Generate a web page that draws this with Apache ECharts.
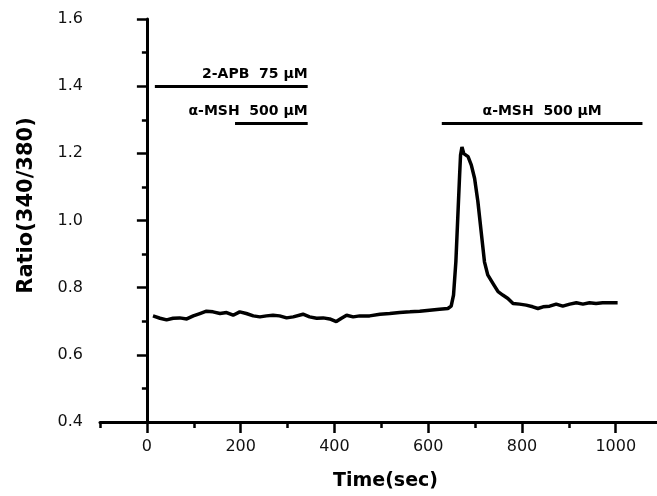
<!DOCTYPE html>
<html>
<head>
<meta charset="UTF-8">
<title></title>
<style>
  html, body { margin: 0; padding: 0; background: #fff; }
  #myChart { width: 657px; height: 496px; }
</style>
</head>
<body>
<div id="myChart"></div>
<script src="https://cdn.jsdelivr.net/npm/echarts@6/dist/echarts.min.js"></script>
<script>
  // trace
  var timeSec = [13, 28, 42, 56, 70, 85, 99, 113, 127, 141,
    156, 170, 184, 198, 212, 227, 241, 255, 269, 283,
    298, 312, 333, 347, 362, 376, 390, 404, 415, 426,
    440, 454, 475, 497, 518, 539, 561, 582, 603, 624,
    642, 649, 654, 659, 663, 667, 669, 672, 676, 685,
    692, 699, 706, 713, 720, 727, 738, 749, 759, 770,
    781, 795, 809, 823, 834, 845, 859, 873, 887, 902,
    916, 930, 944, 958, 972, 987, 1004];
  var ratio = [0.716, 0.709, 0.704, 0.709, 0.710, 0.707, 0.716, 0.723, 0.730, 0.728,
    0.723, 0.726, 0.718, 0.728, 0.723, 0.716, 0.713, 0.716, 0.718, 0.716,
    0.710, 0.713, 0.721, 0.713, 0.709, 0.710, 0.707, 0.699, 0.709, 0.718,
    0.713, 0.716, 0.716, 0.721, 0.723, 0.726, 0.728, 0.730, 0.733, 0.736,
    0.738, 0.745, 0.778, 0.877, 1.006, 1.135, 1.195, 1.219, 1.199, 1.190,
    1.165, 1.125, 1.056, 0.966, 0.877, 0.838, 0.813, 0.788, 0.778, 0.768,
    0.753, 0.751, 0.748, 0.743, 0.738, 0.743, 0.745, 0.751, 0.745, 0.751,
    0.755, 0.751, 0.755, 0.753, 0.755, 0.755, 0.755];

  // treatment bars
  var barLabels = ['2-APB  75 \u00b5M', '\u03b1-MSH  500 \u00b5M', '\u03b1-MSH  500 \u00b5M'];
  var barStart = [17, 188, 629];
  var barEnd = [343, 343, 1057];
  var barLevel = [1.4, 1.29, 1.29];
  var barLabelPos = ['insideEndTop', 'insideEndTop', 'insideMiddleTop'];

  var xMajorTicks = [0, 200, 400, 600, 800, 1000];
  var xMinorTicks = [-100, 100, 300, 500, 700, 900];

  var traceData = [];
  for (var i = 0; i < timeSec.length; i++) {
    traceData.push([timeSec[i], ratio[i]]);
  }

  var barLines = [];
  for (var j = 0; j < barLabels.length; j++) {
    barLines.push([{
      coord: [barStart[j], barLevel[j]],
      label: { formatter: barLabels[j], position: barLabelPos[j] }
    }, {
      coord: [barEnd[j], barLevel[j]]
    }]);
  }

  var font = '"DejaVu Sans", Arial, sans-serif';
  var myChart = echarts.init(document.getElementById('myChart'));

  myChart.setOption({
    animation: false,
    grid: { left: 100, right: 0, top: 19, bottom: 74 },
    xAxis: [{
      type: 'value',
      min: -100,
      max: 1088,
      position: 'bottom',
      name: 'Time(sec)',
      nameLocation: 'middle',
      nameGap: 50,
      nameTextStyle: { fontFamily: font, fontSize: 19, fontWeight: 'bold', color: '#000', padding: [0, 0, 0, 14] },
      axisLine: { lineStyle: { color: '#000', width: 3 } },
      axisTick: { customValues: xMajorTicks, length: 11, lineStyle: { color: '#000', width: 2.5 } },
      axisLabel: {
        customValues: xMajorTicks, margin: 17, fontFamily: font, fontSize: 16, color: '#111',
        formatter: function(v) { return String(v); }
      },
      splitLine: { show: false }
    }, {
      type: 'value',
      min: -100,
      max: 1088,
      position: 'bottom',
      offset: 0,
      axisLine: { show: false },
      axisTick: { customValues: xMinorTicks, length: 6, lineStyle: { color: '#000', width: 2.5 } },
      axisLabel: { show: false },
      splitLine: { show: false }
    }],
    yAxis: {
      type: 'value',
      min: 0.4,
      max: 1.6,
      interval: 0.2,
      name: 'Ratio(340/380)',
      nameLocation: 'middle',
      nameRotate: 90,
      nameGap: 63,
      nameTextStyle: { fontFamily: font, fontSize: 21, fontWeight: 'bold', color: '#000', padding: [0, 0, 0, 30] },
      axisLine: { show: true, lineStyle: { color: '#000', width: 3 } },
      axisTick: { length: 10, lineStyle: { color: '#000', width: 2.5 } },
      minorTick: { show: true, splitNumber: 2, length: 5, lineStyle: { color: '#000', width: 2.5 } },
      axisLabel: {
        margin: 17, fontFamily: font, fontSize: 16, color: '#111',
        formatter: function(v) { return v.toFixed(1); }
      },
      splitLine: { show: false }
    },
    series: [{
      type: 'line',
      data: traceData,
      showSymbol: false,
      symbol: 'none',
      lineStyle: { color: '#000', width: 3.5 },
      z: 3
    }, {
      type: 'line',
      data: [],
      markLine: {
        silent: true,
        symbol: ['none', 'none'],
        lineStyle: { color: '#000', width: 3, type: 'solid' },
        label: {
          show: true,
          distance: [0, 5],
          fontFamily: font,
          fontSize: 14,
          fontWeight: 'bold',
          color: '#000'
        },
        data: barLines
      }
    }]
  });
</script>
</body>
</html>
